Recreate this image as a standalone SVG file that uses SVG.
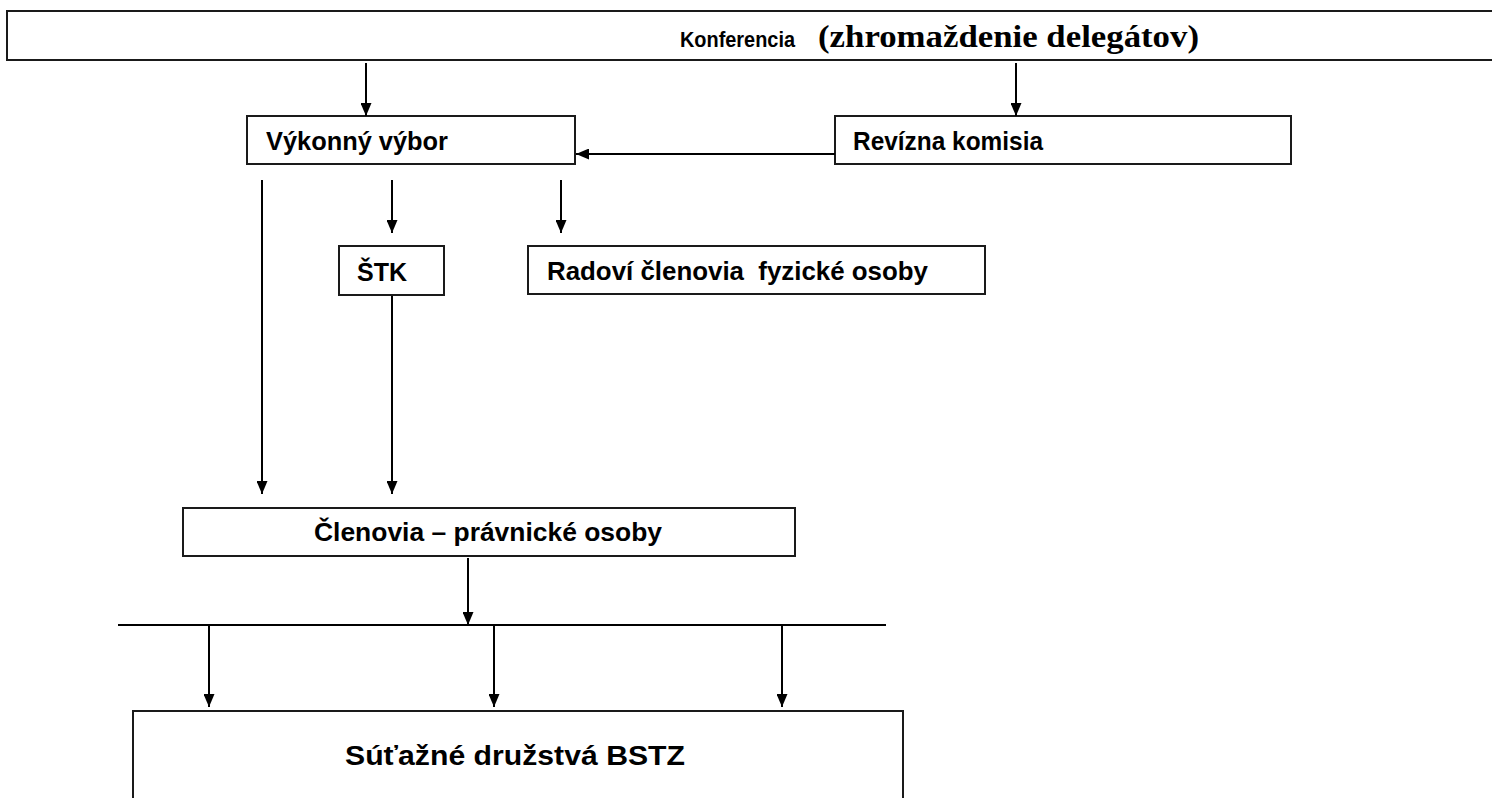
<svg xmlns="http://www.w3.org/2000/svg" width="1492" height="798" viewBox="0 0 1492 798">
<style>
.box{fill:#fff;stroke:#1a1a1a;stroke-width:2}
.ln{stroke:#000;stroke-width:2;fill:none}
.t{font-family:"Liberation Sans",Arial,sans-serif;font-weight:bold;font-size:25px;fill:#000;white-space:pre}
.ts{font-family:"Liberation Serif","Times New Roman",serif;font-weight:bold;font-size:32px;fill:#000}
</style>
<defs>
<marker id="ah" viewBox="0 0 13 11" refX="13" refY="5.5" markerWidth="13" markerHeight="11" markerUnits="userSpaceOnUse" orient="auto">
<path d="M0,0 L13,5.5 L0,11 z" fill="#000"/>
</marker>
</defs>
<rect width="1492" height="798" fill="#fff"/>
<g id="konferencia">
<rect class="box" x="7" y="11" width="1500" height="49"/>
<text class="t" x="680" y="47" style="font-size:22px" textLength="115" lengthAdjust="spacingAndGlyphs">Konferencia</text>
<text class="ts" x="818" y="47" textLength="381" lengthAdjust="spacingAndGlyphs">(zhromaždenie delegátov)</text>
</g>
<g id="vykonny">
<rect class="box" x="247" y="116" width="328" height="48"/>
<text class="t" x="266" y="150" textLength="182" lengthAdjust="spacingAndGlyphs">Výkonný výbor</text>
</g>
<g id="revizna">
<rect class="box" x="835" y="116" width="456" height="48"/>
<text class="t" x="853" y="150" textLength="190" lengthAdjust="spacingAndGlyphs">Revízna komisia</text>
</g>
<g id="stk">
<rect class="box" x="339" y="246" width="105" height="49"/>
<text class="t" x="357" y="281">ŠTK</text>
</g>
<g id="radovi">
<rect class="box" x="528" y="246" width="457" height="48"/>
<text class="t" x="547" y="280" style="font-size:26px" textLength="381" lengthAdjust="spacingAndGlyphs">Radoví členovia  fyzické osoby</text>
</g>
<g id="clenovia">
<rect class="box" x="183" y="508" width="612" height="48"/>
<text class="t" x="314" y="541" style="font-size:26px" textLength="348" lengthAdjust="spacingAndGlyphs">Členovia – právnické osoby</text>
</g>
<g id="sutazne">
<rect class="box" x="133" y="711" width="770" height="100"/>
<text class="t" x="345" y="765" style="font-size:27px" textLength="340" lengthAdjust="spacingAndGlyphs">Súťažné družstvá BSTZ</text>
</g>
<g id="connectors">
<line class="ln" x1="366" y1="63" x2="366" y2="116" marker-end="url(#ah)"/>
<line class="ln" x1="1016" y1="63" x2="1016" y2="116" marker-end="url(#ah)"/>
<line class="ln" x1="835" y1="154" x2="576" y2="154" marker-end="url(#ah)"/>
<line class="ln" x1="262" y1="180" x2="262" y2="494" marker-end="url(#ah)"/>
<line class="ln" x1="392" y1="180" x2="392" y2="233" marker-end="url(#ah)"/>
<line class="ln" x1="561" y1="180" x2="561" y2="233" marker-end="url(#ah)"/>
<line class="ln" x1="392" y1="296" x2="392" y2="494" marker-end="url(#ah)"/>
<line class="ln" x1="468" y1="558" x2="468" y2="625" marker-end="url(#ah)"/>
<line class="ln" x1="118" y1="625" x2="886" y2="625"/>
<line class="ln" x1="209" y1="625" x2="209" y2="707" marker-end="url(#ah)"/>
<line class="ln" x1="494" y1="625" x2="494" y2="707" marker-end="url(#ah)"/>
<line class="ln" x1="782" y1="625" x2="782" y2="707" marker-end="url(#ah)"/>
</g>
</svg>
